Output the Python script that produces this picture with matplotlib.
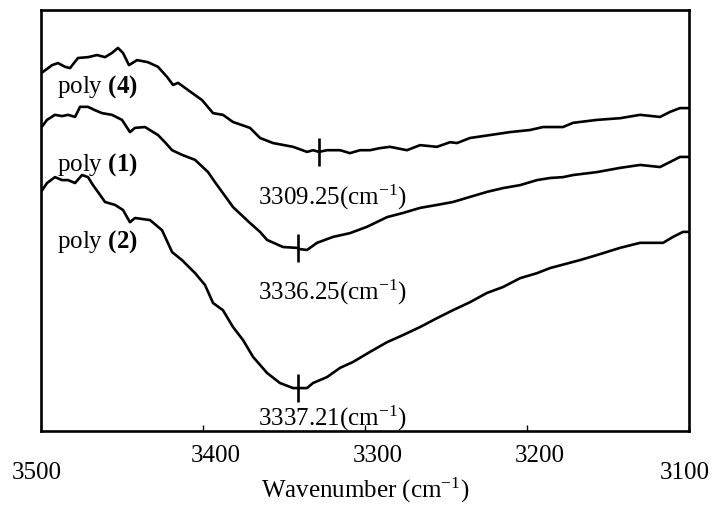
import matplotlib
matplotlib.use('Agg')
import matplotlib.pyplot as plt
import matplotlib.transforms as mtransforms

plt.rcParams['font.family'] = ['Liberation Serif', 'DejaVu Serif']
plt.rcParams['mathtext.fontset'] = 'custom'
plt.rcParams['mathtext.rm'] = 'Liberation Serif'
plt.rcParams['mathtext.bf'] = 'Liberation Serif:bold'
plt.rcParams['mathtext.it'] = 'Liberation Serif:italic'

# 光谱数据 (波数, 透过率 a.u.)
wn4 = [3498.8, 3493.2, 3489.5, 3485.2, 3482.1, 3477.2, 3471.0, 3465.4, 3460.5, 3456.2,
       3452.5, 3449.4, 3445.7, 3440.7, 3434.0, 3427.8, 3422.2, 3418.5, 3415.4, 3409.3,
       3400.6, 3393.8, 3387.7, 3381.5, 3371.0, 3364.8, 3356.8, 3344.4, 3335.8, 3332.1,
       3328.4, 3323.5, 3315.4, 3309.3, 3303.1, 3296.9, 3290.7, 3284.6, 3274.1, 3266.0,
       3255.6, 3247.5, 3243.2, 3235.2, 3222.8, 3210.5, 3198.1, 3190.1, 3177.8, 3171.6,
       3156.8, 3142.6, 3130.2, 3117.9, 3111.7, 3105.6, 3100.0]
t4 = [85.3, 86.9, 87.4, 86.5, 86.2, 88.6, 88.8, 89.3, 88.8, 89.8,
      91.0, 89.8, 86.9, 88.1, 87.6, 86.5, 84.1, 82.2, 82.7, 81.0,
      78.6, 75.5, 75.1, 73.4, 72.0, 69.6, 68.4, 67.5, 66.3, 66.7,
      66.3, 66.7, 66.7, 66.0, 66.7, 66.7, 67.2, 67.5, 66.7, 67.9,
      67.5, 68.6, 68.4, 69.6, 70.3, 71.0, 71.5, 72.2, 72.2, 73.2,
      73.9, 74.3, 75.1, 74.6, 75.8, 76.7, 76.7]

wn1 = [3500.0, 3496.3, 3491.4, 3487.0, 3483.3, 3479.0, 3475.9, 3471.0, 3466.7, 3462.3,
       3456.2, 3450.0, 3445.1, 3442.0, 3435.8, 3427.8, 3423.5, 3419.1, 3413.0, 3404.9,
       3396.9, 3392.6, 3387.7, 3381.5, 3371.0, 3364.8, 3360.5, 3350.6, 3342.0, 3340.1,
       3335.8, 3329.6, 3319.8, 3309.3, 3298.8, 3286.4, 3276.5, 3266.0, 3255.6, 3245.7,
       3235.2, 3224.7, 3214.8, 3204.3, 3193.8, 3185.8, 3177.8, 3171.6, 3156.8, 3142.6,
       3130.2, 3117.9, 3111.7, 3105.6, 3100.0]
t1 = [72.0, 73.9, 75.1, 74.8, 75.1, 74.6, 77.0, 77.0, 76.2, 75.5,
      75.1, 73.9, 71.0, 72.0, 72.2, 70.3, 68.6, 66.7, 65.6, 64.4,
      61.5, 59.1, 56.5, 53.2, 49.4, 47.3, 45.4, 43.7, 43.5, 43.2,
      43.0, 44.7, 46.1, 47.0, 48.5, 50.8, 51.8, 53.0, 53.7, 54.4,
      55.6, 56.8, 57.7, 58.4, 59.6, 60.1, 60.3, 60.8, 61.5, 62.5,
      63.2, 62.7, 63.9, 65.1, 65.1]

wn2 = [3500.0, 3496.3, 3491.4, 3487.0, 3483.3, 3479.0, 3474.7, 3471.0, 3467.9, 3463.6,
       3460.5, 3454.3, 3449.4, 3445.1, 3442.0, 3432.7, 3425.3, 3419.1, 3413.0, 3404.9,
       3398.8, 3393.8, 3387.7, 3381.5, 3375.3, 3369.1, 3360.5, 3352.5, 3344.4, 3335.8,
       3332.1, 3323.5, 3315.4, 3307.4, 3296.9, 3286.4, 3276.5, 3266.0, 3255.6, 3245.7,
       3235.2, 3224.7, 3214.8, 3204.3, 3193.8, 3185.8, 3167.3, 3156.8, 3142.6, 3130.2,
       3116.0, 3109.9, 3103.7, 3100.0]
t2 = [56.8, 58.9, 60.3, 59.6, 59.6, 58.9, 60.8, 60.3, 58.4, 56.1,
      54.4, 53.7, 52.5, 49.6, 50.6, 50.1, 47.7, 42.5, 40.6, 37.5,
      34.7, 30.4, 28.7, 24.7, 21.6, 17.6, 13.8, 11.4, 10.2, 10.2,
      11.4, 12.8, 15.0, 16.4, 18.8, 21.1, 22.8, 24.7, 26.8, 28.7,
      30.6, 32.8, 34.2, 36.3, 37.5, 38.7, 40.6, 41.8, 43.5, 44.7,
      44.7, 46.1, 47.3, 47.3]

names = ['4', '1', '2']
name_y = [81.7, 63.2, 44.9]
peak_wn = [3328.4, 3341.4, 3341.4]
peak_t = [66.3, 43.5, 10.2]
peak_text = ['3309.25', '3336.25', '3337.21']
peak_text_y = [55.6, 33.0, 3.1]
xticks = [3500, 3400, 3300, 3200, 3100]

fig = plt.figure(figsize=(7.16, 5.05), dpi=100)
ax = fig.add_axes([0.0573, 0.1465, 0.9050, 0.8337])

for wn, t in [(wn4, t4), (wn1, t1), (wn2, t2)]:
    ax.plot(wn, t, color='black', lw=1.9, solid_joinstyle='round')

# 峰位标记
ax.plot(peak_wn, peak_t, ls='none', marker='|', ms=20, mew=1.9, color='black')

for n, y in zip(names, name_y):
    ax.text(3490.3, y, r'poly $\mathbf{(' + n + r')}$', fontsize=18, va='center', ha='left')
for s, y in zip(peak_text, peak_text_y):
    ax.text(3366.0, y, s + r'(cm$^{-1}$)', fontsize=18, va='center', ha='left')

ax.set_xlim(3500, 3100)
ax.set_ylim(0, 100)
ax.set_yticks([])
ax.set_xticks(xticks)
ax.set_xticklabels([str(v) for v in xticks], fontsize=18)
ax.tick_params(axis='x', direction='in', length=4.5, width=1, pad=10)
ax.set_xlabel(r'Wavenumber (cm$^{-1}$)', fontsize=18, va='top')
ax.xaxis.set_label_coords(0.5, -0.106)

for sp in ax.spines.values():
    sp.set_linewidth(1.9)

# 两端刻度标签稍低, 中间的偏右
for i, lab in enumerate(ax.get_xticklabels()):
    if i in (0, len(xticks) - 1):
        dx, dy = -3 / 72, -12 / 72
    else:
        dx, dy = 9 / 72, 0
    off = mtransforms.ScaledTranslation(dx, dy, fig.dpi_scale_trans)
    lab.set_transform(lab.get_transform() + off)

fig.savefig('out.png', dpi=100)
